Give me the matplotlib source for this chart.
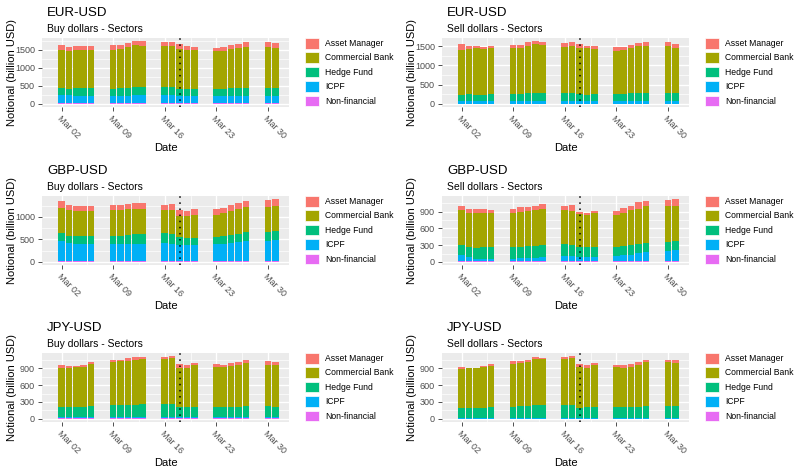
import numpy as np
import matplotlib
matplotlib.use("Agg")
import matplotlib.pyplot as plt
import matplotlib.dates as mdates
from matplotlib.patches import Patch
from matplotlib.ticker import MultipleLocator

plt.rcParams['font.family'] = ['Liberation Sans', 'DejaVu Sans']

# Business days of March 2020
dates = np.array(['2020-03-02', '2020-03-03', '2020-03-04', '2020-03-05', '2020-03-06',
                  '2020-03-09', '2020-03-10', '2020-03-11', '2020-03-12', '2020-03-13',
                  '2020-03-16', '2020-03-17', '2020-03-18', '2020-03-19', '2020-03-20',
                  '2020-03-23', '2020-03-24', '2020-03-25', '2020-03-26', '2020-03-27',
                  '2020-03-30', '2020-03-31'], dtype='datetime64[D]')
marker_date = np.datetime64('2020-03-18')
tick_dates = np.array(['2020-03-02', '2020-03-09', '2020-03-16', '2020-03-23', '2020-03-30'],
                      dtype='datetime64[D]')

sectors = ['Asset Manager', 'Commercial Bank', 'Hedge Fund', 'ICPF', 'Non-financial']
colors = ['#F8766D', '#A3A500', '#00BF7D', '#00B0F6', '#E76BF3']

# EUR-USD buy dollars
eur_buy_am = [140, 115, 105, 105, 95, 120, 110, 120, 120, 120, 110, 120, 120, 125, 95, 95, 115, 100, 105, 140, 140, 145]
eur_buy_cb = [1055, 1045, 1055, 1055, 1065, 1075, 1105, 1130, 1160, 1160, 1145, 1140, 1115, 1075, 1065, 1045, 1045, 1095, 1120, 1140, 1140, 1100]
eur_buy_hf = [170, 180, 210, 210, 210, 200, 200, 220, 220, 220, 225, 220, 190, 180, 190, 200, 200, 210, 210, 210, 210, 210]
eur_buy_icpf = [230, 210, 200, 200, 200, 200, 200, 200, 210, 210, 210, 210, 200, 200, 200, 190, 190, 190, 200, 200, 200, 200]
eur_buy_nf = [25, 26, 24, 25, 25, 24, 25, 26, 25, 24, 25, 26, 25, 24, 25, 25, 24, 25, 26, 25, 24, 25]

# EUR-USD sell dollars
eur_sell_am = [150, 60, 70, 60, 70, 80, 70, 90, 85, 70, 100, 95, 95, 70, 85, 95, 85, 85, 100, 105, 115, 115]
eur_sell_cb = [1180, 1175, 1205, 1200, 1190, 1200, 1200, 1240, 1265, 1255, 1210, 1230, 1200, 1205, 1175, 1130, 1140, 1165, 1210, 1220, 1210, 1165]
eur_sell_hf = [165, 190, 175, 165, 190, 190, 200, 210, 215, 215, 215, 215, 200, 175, 190, 190, 190, 210, 215, 215, 215, 215]
eur_sell_icpf = [57, 58, 57, 56, 57, 58, 57, 58, 57, 58, 57, 58, 56, 57, 57, 58, 57, 58, 58, 57, 58, 57]
eur_sell_nf = [8, 8, 7, 8, 8, 8, 7, 8, 8, 8, 8, 7, 8, 8, 8, 8, 8, 7, 8, 8, 8, 8]

# GBP-USD buy dollars
gbp_buy_am = [140, 115, 110, 115, 115, 115, 115, 125, 145, 130, 115, 140, 130, 105, 130, 130, 115, 130, 145, 140, 160, 160]
gbp_buy_cb = [570, 570, 570, 555, 555, 570, 570, 570, 565, 565, 515, 530, 465, 490, 495, 480, 520, 540, 550, 565, 565, 555]
gbp_buy_hf = [175, 170, 170, 185, 185, 185, 185, 200, 205, 205, 225, 215, 180, 165, 165, 165, 165, 185, 190, 195, 190, 200]
gbp_buy_icpf = [448, 398, 383, 383, 383, 383, 383, 383, 393, 393, 398, 393, 363, 363, 363, 378, 393, 398, 423, 448, 453, 468]
gbp_buy_nf = [12, 12, 12, 12, 12, 12, 12, 12, 12, 12, 12, 12, 12, 12, 12, 12, 12, 12, 12, 12, 12, 12]

# GBP-USD sell dollars
gbp_sell_am = [80, 70, 70, 70, 60, 70, 75, 75, 75, 80, 80, 90, 50, 45, 40, 70, 90, 80, 115, 90, 115, 115]
gbp_sell_cb = [630, 605, 625, 615, 605, 615, 635, 635, 640, 655, 610, 620, 585, 575, 605, 565, 580, 625, 630, 655, 650, 640]
gbp_sell_hf = [175, 185, 195, 205, 205, 205, 195, 205, 210, 210, 210, 200, 180, 180, 180, 175, 175, 175, 170, 175, 155, 160]
gbp_sell_icpf = [117, 82, 52, 52, 52, 52, 62, 62, 67, 77, 97, 92, 77, 77, 77, 92, 107, 117, 147, 162, 187, 202]
gbp_sell_nf = [8, 8, 8, 8, 8, 8, 9, 9, 8, 8, 9, 9, 8, 8, 8, 8, 8, 8, 8, 8, 8, 8]

# JPY-USD buy dollars
jpy_buy_am = [50, 40, 20, 35, 30, 35, 30, 40, 40, 30, 35, 35, 70, 50, 30, 40, 40, 45, 45, 50, 55, 50]
jpy_buy_cb = [705, 695, 710, 715, 750, 765, 780, 780, 800, 805, 800, 815, 690, 695, 740, 715, 710, 730, 750, 765, 735, 745]
jpy_buy_hf = [175, 175, 180, 185, 200, 220, 210, 225, 225, 230, 240, 235, 180, 175, 185, 185, 180, 180, 185, 195, 200, 185]
jpy_buy_icpf = [22, 22, 22, 22, 22, 22, 22, 22, 22, 22, 22, 22, 22, 22, 22, 22, 22, 22, 22, 22, 22, 22]
jpy_buy_nf = [8, 8, 8, 8, 8, 8, 8, 8, 8, 8, 8, 8, 8, 8, 8, 8, 8, 8, 8, 8, 8, 8]

# JPY-USD sell dollars
jpy_sell_am = [40, 10, 10, 20, 40, 40, 45, 35, 35, 20, 35, 35, 50, 50, 40, 45, 50, 50, 50, 35, 35, 40]
jpy_sell_cb = [705, 715, 715, 720, 725, 765, 765, 785, 815, 815, 810, 825, 730, 695, 735, 705, 700, 715, 740, 775, 780, 775]
jpy_sell_hf = [170, 170, 170, 185, 200, 200, 210, 215, 235, 235, 240, 240, 185, 190, 200, 200, 195, 200, 200, 215, 210, 210]
jpy_sell_icpf = [10, 10, 10, 10, 10, 10, 10, 10, 10, 10, 10, 10, 10, 10, 10, 10, 10, 10, 10, 10, 10, 10]
jpy_sell_nf = [5, 5, 5, 5, 5, 5, 5, 5, 5, 5, 5, 5, 5, 5, 5, 5, 5, 5, 5, 5, 5, 5]

panels = [
    ('EUR-USD', 'Buy dollars - Sectors', [eur_buy_am, eur_buy_cb, eur_buy_hf, eur_buy_icpf, eur_buy_nf], 500),
    ('EUR-USD', 'Sell dollars - Sectors', [eur_sell_am, eur_sell_cb, eur_sell_hf, eur_sell_icpf, eur_sell_nf], 500),
    ('GBP-USD', 'Buy dollars - Sectors', [gbp_buy_am, gbp_buy_cb, gbp_buy_hf, gbp_buy_icpf, gbp_buy_nf], 500),
    ('GBP-USD', 'Sell dollars - Sectors', [gbp_sell_am, gbp_sell_cb, gbp_sell_hf, gbp_sell_icpf, gbp_sell_nf], 300),
    ('JPY-USD', 'Buy dollars - Sectors', [jpy_buy_am, jpy_buy_cb, jpy_buy_hf, jpy_buy_icpf, jpy_buy_nf], 300),
    ('JPY-USD', 'Sell dollars - Sectors', [jpy_sell_am, jpy_sell_cb, jpy_sell_hf, jpy_sell_icpf, jpy_sell_nf], 300),
]

W, H = 796, 468
col_left = [42, 442]
row_top = [38, 196, 353]
panel_w, panel_h = 247, 69
legend_offset = 263  # px from panel left to legend keys


def draw_panel(fig, left, top, title, subtitle, series, step):
    ax = fig.add_axes([left / W, 1 - (top + panel_h) / H, panel_w / W, panel_h / H])
    ax.set_facecolor('#EBEBEB')
    for s in ax.spines.values():
        s.set_visible(False)

    # stack from Non-financial at the bottom up to Asset Manager
    bottom = np.zeros(len(dates))
    for i in range(len(sectors) - 1, -1, -1):
        vals = np.array(series[i], dtype=float)
        ax.bar(dates, vals, bottom=bottom, width=0.9, color=colors[i], linewidth=0, zorder=2)
        bottom += vals

    ax.axvline(marker_date, color='black', linestyle=(0, (1, 3)), linewidth=1.1, zorder=3)

    top_val = bottom.max()
    pad = top_val * 0.05
    ax.set_ylim(-pad, top_val + pad)
    ax.set_xlim(mdates.date2num(dates[0]) - 2.65, mdates.date2num(dates[-1]) + 1.85)

    ax.yaxis.set_major_locator(MultipleLocator(step))
    ax.yaxis.set_minor_locator(MultipleLocator(step / 2))
    ax.set_xticks(tick_dates)
    ax.set_xticks(tick_dates[:-1] + np.timedelta64(84, 'h'), minor=True)
    ax.xaxis.set_major_formatter(mdates.DateFormatter('%b %d'))

    ax.grid(which='major', color='white', linewidth=1.0, zorder=0)
    ax.grid(which='minor', color='white', linewidth=0.5, zorder=0)
    ax.set_axisbelow(True)

    ax.tick_params(which='major', length=3, width=0.6, color='#333333',
                   labelsize=6.5, labelcolor='#4D4D4D', pad=2)
    ax.tick_params(which='minor', length=0)
    for lab in ax.get_xticklabels():
        lab.set_rotation(-45)
        lab.set_ha('left')
        lab.set_va('top')
        lab.set_rotation_mode('anchor')

    fig.text((left + 5) / W, 1 - (top - 25) / H, title, fontsize=9.5, va='center', ha='left')
    fig.text((left + 5) / W, 1 - (top - 9) / H, subtitle, fontsize=7.5, va='center', ha='left')
    fig.text((left - 30) / W, 1 - (top + panel_h / 2) / H, 'Notional (billion USD)',
             fontsize=8, rotation=90, va='center', ha='center')
    fig.text((left + panel_w / 2) / W, 1 - (top + panel_h + 41) / H, 'Date',
             fontsize=8, va='center', ha='center')

    handles = [Patch(facecolor=c, edgecolor='white', linewidth=0.5) for c in colors]
    ax.legend(handles, sectors, loc='upper left',
              bbox_to_anchor=(legend_offset / panel_w, 1.0),
              frameon=False, fontsize=6.2, handlelength=1.6, handleheight=1.5,
              labelspacing=0.45, handletextpad=0.7, borderpad=0, borderaxespad=0)
    return ax


fig = plt.figure(figsize=(W / 100, H / 100), dpi=100)
for k, (title, subtitle, series, step) in enumerate(panels):
    r, c = divmod(k, 2)
    draw_panel(fig, col_left[c], row_top[r], title, subtitle, series, step)

fig.savefig('out.png', dpi=100)
